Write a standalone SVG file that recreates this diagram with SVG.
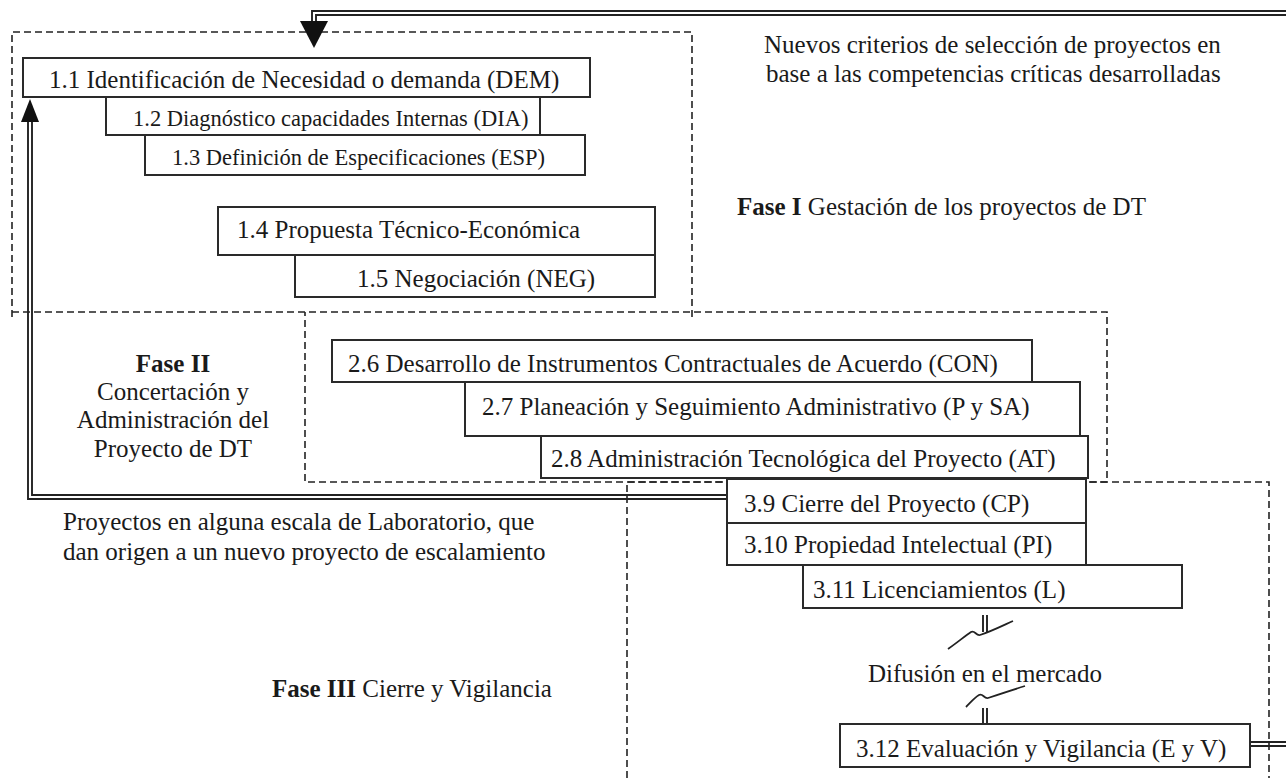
<svg xmlns="http://www.w3.org/2000/svg" width="1286" height="778" viewBox="0 0 1286 778">
<style>
.t{font-family:"Liberation Serif","Times New Roman",serif;font-size:25px;fill:#1a1a1a}
.s{font-size:22.5px}
.b{font-weight:bold}
.box{fill:#fff;stroke:#2a2a2a;stroke-width:2}
.dash{fill:none;stroke:#222;stroke-width:1.6;stroke-dasharray:7 4}
.dbl{fill:none;stroke:#222;stroke-width:1.9}
.brk{fill:none;stroke:#222;stroke-width:1.8}
</style>
<g id="phases">
<path class="dash" d="M12,317 V32 H692 V317"/>
<path class="dash" d="M12,312 H1107 V482 H305 V312"/>
<path class="dash" d="M627,778 V482 H1269 V778"/>
</g>
<g id="connectors">
<path class="dbl" d="M1286,11 H312 V22"/>
<path class="dbl" d="M1286,15 H316 V22"/>
<polygon points="300,21 328,21 314,48" fill="#111"/>
<path class="dbl" d="M727,499 H28 V121"/>
<path class="dbl" d="M727,495 H32 V121"/>
<polygon points="21,122 39,122 30,99" fill="#111"/>
<path class="dbl" d="M1250,742 H1286"/>
<path class="dbl" d="M1250,746 H1286"/>
<path class="dbl" d="M983,615 V632 M987,615 V632"/>
<path class="brk" d="M948,649 C958,642 965,636 971,632 C975,630 976,636 980,635 C990,632 1002,626 1013,621"/>
<path class="dbl" d="M983,708 V724 M987,708 V724"/>
<path class="brk" d="M966,707 C970,703 974,698 979,695 C983,693 984,699 988,698 C1000,694 1012,690 1025,686"/>
</g>
<g id="n1_1"><rect class="box" x="23" y="58" width="567" height="39"/><text class="t" x="49" y="88">1.1 Identificación de Necesidad o demanda (DEM)</text></g>
<g id="n1_2"><rect class="box" x="106" y="97" width="434" height="38"/><text class="t s" x="133" y="126">1.2 Diagnóstico capacidades Internas (DIA)</text></g>
<g id="n1_3"><rect class="box" x="145" y="135" width="440" height="40"/><text class="t s" x="172" y="165">1.3 Definición de Especificaciones (ESP)</text></g>
<g id="n1_4"><rect class="box" x="218" y="207" width="437" height="48"/><text class="t" x="237" y="238">1.4 Propuesta Técnico-Económica</text></g>
<g id="n1_5"><rect class="box" x="295" y="255" width="360" height="42"/><text class="t" x="357" y="287">1.5 Negociación (NEG)</text></g>
<g id="n2_6"><rect class="box" x="332" y="340" width="700" height="42"/><text class="t" x="348" y="372">2.6 Desarrollo de Instrumentos Contractuales de Acuerdo (CON)</text></g>
<g id="n2_7"><rect class="box" x="465" y="382" width="615" height="54"/><text class="t" x="482" y="415">2.7 Planeación y Seguimiento Administrativo (P y SA)</text></g>
<g id="n2_8"><rect class="box" x="541" y="436" width="547" height="42"/><text class="t" x="551" y="467">2.8 Administración Tecnológica del Proyecto (AT)</text></g>
<g id="n3_9"><rect class="box" x="727" y="479" width="359" height="44"/><text class="t" x="744" y="512">3.9 Cierre del Proyecto (CP)</text></g>
<g id="n3_10"><rect class="box" x="727" y="523" width="359" height="42"/><text class="t" x="744" y="553">3.10 Propiedad Intelectual (PI)</text></g>
<g id="n3_11"><rect class="box" x="803" y="565" width="379" height="43"/><text class="t" x="813" y="598">3.11 Licenciamientos (L)</text></g>
<g id="n3_12"><rect class="box" x="840" y="724" width="410" height="43"/><text class="t" x="856" y="757">3.12 Evaluación y Vigilancia (E y V)</text></g>
<g id="labels">
<text class="t" x="764" y="53">Nuevos criterios de selección de proyectos en</text>
<text class="t" x="766" y="82">base a las competencias críticas desarrolladas</text>
<text class="t" x="737" y="215"><tspan class="b">Fase I</tspan> Gestación de los proyectos de DT</text>
<text class="t" x="173" y="372" text-anchor="middle"><tspan class="b">Fase II</tspan></text>
<text class="t" x="173" y="400" text-anchor="middle">Concertación y</text>
<text class="t" x="173" y="428" text-anchor="middle">Administración del</text>
<text class="t" x="173" y="457" text-anchor="middle">Proyecto de DT</text>
<text class="t" x="63" y="530">Proyectos en alguna escala de Laboratorio, que</text>
<text class="t" x="63" y="560">dan origen a un nuevo proyecto de escalamiento</text>
<text class="t" x="868" y="682">Difusión en el mercado</text>
<text class="t" x="272" y="697"><tspan class="b">Fase III</tspan> Cierre y Vigilancia</text>
</g>
</svg>
